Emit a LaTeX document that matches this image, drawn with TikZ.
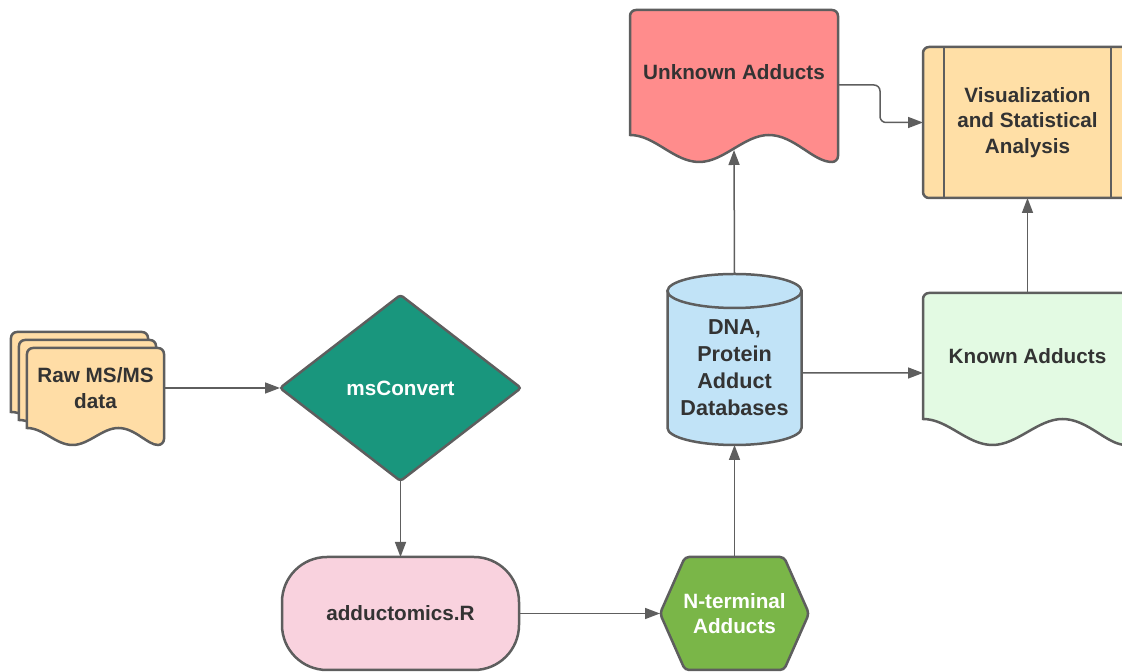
\documentclass[tikz,border=0pt]{standalone}
\usepackage{fontspec}
\setmainfont{Liberation Sans}
\usepackage{tikz}
\usetikzlibrary{positioning,calc,shapes.geometric,arrows.meta}
\pgfdeclarelayer{background}
\pgfdeclarelayer{foreground}
\pgfsetlayers{background,main,foreground}

\definecolor{linegray}{HTML}{5E5E5E}
\definecolor{textgray}{HTML}{333333}
\definecolor{rawfill}{HTML}{FFDDA6}
\definecolor{convfill}{HTML}{19967D}
\definecolor{adductfill}{HTML}{F9D2DE}
\definecolor{ntfill}{HTML}{7AB648}
\definecolor{dbfill}{HTML}{C1E3F7}
\definecolor{unknownfill}{HTML}{FF8C8C}
\definecolor{knownfill}{HTML}{E3FAE3}
\definecolor{visfill}{HTML}{FFDFA6}

% document sheet with a wavy lower edge, drawn round a node
\newcommand{\docshape}[3]{%
	\draw[shapeline, fill=#2, rounded corners=6bp] (#1.south west) -- (#1.north west) -- (#1.north east) -- ($(#1.south east)+(0,-#3)$) [sharp corners]
		.. controls ($(#1.south east)!0.12!(#1.south west)+(0,-#3)$) and ($(#1.south east)!0.21!(#1.south west)$) .. ($(#1.south east)!0.333!(#1.south west)$)
		.. controls ($(#1.south east)!0.45!(#1.south west)$) and ($(#1.south east)!0.55!(#1.south west)+(0,-#3)$) .. ($(#1.south east)!0.667!(#1.south west)+(0,-#3)$)
		.. controls ($(#1.south east)!0.79!(#1.south west)+(0,-#3)$) and ($(#1.south east)!0.88!(#1.south west)$) .. (#1.south west) -- cycle;}

\begin{document}
\begin{tikzpicture}[x=1bp, y=1bp,
					font=\bfseries\fontsize{20.7bp}{25.5bp}\selectfont,
					shapeline/.style={draw=linegray, line width=2.5bp},
					flow/.style={draw=linegray, line width=1.5bp, -{Triangle[length=15bp,width=11bp]}},
					textbox/.style={inner sep=0pt, outer sep=0pt, align=center, text=textgray},
					]
					\useasboundingbox (0,0) rectangle (1122,672);
					%Nodes
					\node[textbox, minimum width=137bp, minimum height=80bp]      (rawc)    at (79.5,300)    {};
					\node[textbox, minimum width=137bp, minimum height=80bp]      (rawb)    at (87.5,292)    {};
					\node[textbox, minimum width=137bp, minimum height=80bp]      (raw)     at (95.5,284)    {Raw MS/MS\\data};
					\node[textbox, shapeline, diamond, fill=convfill, text=white, rounded corners=3bp,
						minimum width=241bp, minimum height=186bp]                 (msconv)  at (400.5,284)   {msConvert};
					\node[textbox, shapeline, rounded corners=45bp, fill=adductfill,
						minimum width=237bp, minimum height=113bp]                 (adduct)  at (400.5,58.5)  {adductomics.R};
					\node[textbox, text=white, minimum width=149bp, minimum height=113bp] (nterm) at (734.5,58.5) {N-terminal\\Adducts};
					\node[textbox, font=\bfseries\fontsize{21.6bp}{27bp}\selectfont,
						minimum width=134bp, minimum height=154bp]                 (db)      at (734.5,304)   {DNA,\\Protein\\Adduct\\Databases};
					\node[textbox, minimum width=208bp, minimum height=125bp]     (unknown) at (734,599.5)   {Unknown Adducts};
					\node[textbox, minimum width=209bp, minimum height=126bp]     (known)   at (1027.5,316)  {Known Adducts};
					\node[textbox, shapeline, fill=visfill, rounded corners=6bp,
						minimum width=209bp, minimum height=151bp]                 (vis)     at (1027.5,549.5) {Visualization\\and Statistical\\Analysis};
					\draw[shapeline] ([xshift=21bp]vis.north west) -- ([xshift=21bp]vis.south west);
					\draw[shapeline] ([xshift=-21bp]vis.north east) -- ([xshift=-21bp]vis.south east);
					
					\begin{pgfonlayer}{background}
					%Shapes
					\docshape{rawc}{rawfill}{17}
					\docshape{rawb}{rawfill}{17}
					\docshape{raw}{rawfill}{17}
					\docshape{unknown}{unknownfill}{27}
					\docshape{known}{knownfill}{26}
					\draw[shapeline, fill=dbfill] (db.north west) -- ($(db.south west)+(0,17)$) arc[start angle=180, end angle=360, x radius=67, y radius=17] -- (db.north east) -- cycle;
					\draw[shapeline, fill=dbfill] (db.north) ellipse [x radius=67, y radius=17];
					\draw[shapeline, fill=ntfill, rounded corners=4bp] (nterm.west) -- ([xshift=25bp]nterm.north west) -- ([xshift=-25bp]nterm.north east)
						-- (nterm.east) -- ([xshift=-25bp]nterm.south east) -- ([xshift=25bp]nterm.south west) -- cycle;
					\end{pgfonlayer}
					
					%Lines
					\draw[flow] (raw.east) -- (msconv.west);
					\draw[flow] (msconv.south) -- (adduct.north);
					\draw[flow] (adduct.east) -- (nterm.west);
					\draw[flow] (nterm.north) -- (db.south);
					\draw[flow] ([yshift=17bp]db.north) -- ([yshift=-15bp]unknown.south);
					\draw[flow] ([yshift=-5bp]db.east) -- ([yshift=-17bp]known.west);
					\draw[flow, rounded corners=6bp] ([yshift=-12.5bp]unknown.east) -- ++(42,0) |- (vis.west);
					\draw[flow] (known.north) -- (vis.south);
				\end{tikzpicture}
\end{document}
